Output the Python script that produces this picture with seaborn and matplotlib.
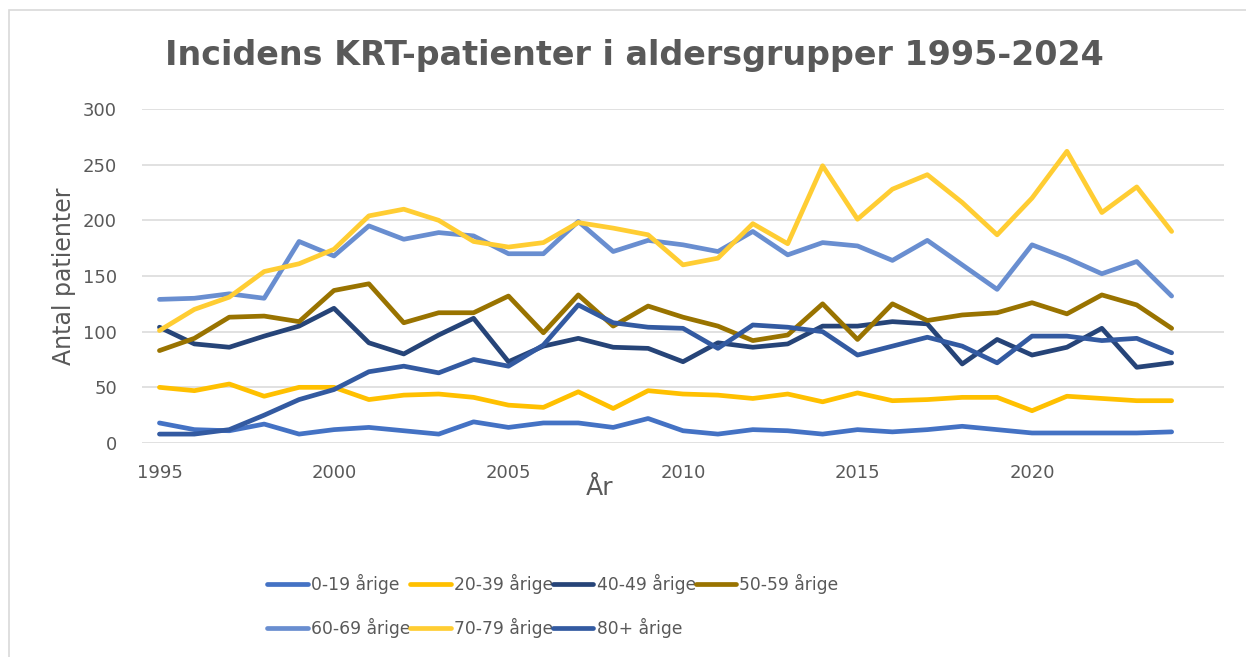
import numpy as np
import pandas as pd
import matplotlib
matplotlib.use("Agg")
import matplotlib.pyplot as plt
import seaborn as sns
from matplotlib.patches import Rectangle

# Data
years = list(range(1995, 2025))
v0_19 = [18, 12, 11, 17, 8, 12, 14, 11, 8, 19, 14, 18, 18, 14, 22, 11, 8, 12, 11, 8, 12, 10, 12, 15, 12, 9, 9, 9, 9, 10]
v20_39 = [50, 47, 53, 42, 50, 50, 39, 43, 44, 41, 34, 32, 46, 31, 47, 44, 43, 40, 44, 37, 45, 38, 39, 41, 41, 29, 42, 40, 38, 38]
v40_49 = [104, 89, 86, 96, 105, 121, 90, 80, 97, 112, 73, 87, 94, 86, 85, 73, 90, 86, 89, 105, 105, 109, 107, 71, 93, 79, 86, 103, 68, 72]
v50_59 = [83, 94, 113, 114, 109, 137, 143, 108, 117, 117, 132, 99, 133, 105, 123, 113, 105, 92, 97, 125, 93, 125, 110, 115, 117, 126, 116, 133, 124, 103]
v60_69 = [129, 130, 134, 130, 181, 168, 195, 183, 189, 186, 170, 170, 199, 172, 182, 178, 172, 190, 169, 180, 177, 164, 182, 160, 138, 178, 166, 152, 163, 132]
v70_79 = [101, 120, 131, 154, 161, 174, 204, 210, 200, 181, 176, 180, 198, 193, 187, 160, 166, 197, 179, 249, 201, 228, 241, 216, 187, 220, 262, 207, 230, 190]
v80 = [8, 8, 12, 25, 39, 48, 64, 69, 63, 75, 69, 88, 124, 108, 104, 103, 85, 106, 104, 100, 79, 87, 95, 87, 72, 96, 96, 92, 94, 81]

groups = ["0-19 årige", "20-39 årige", "40-49 årige", "50-59 årige",
          "60-69 årige", "70-79 årige", "80+ årige"]
colors = ["#4472C4", "#FFC000", "#264478", "#997300", "#698ED0", "#FFCD33", "#335AA1"]
xticks = [1995, 2000, 2005, 2010, 2015, 2020]
yticks = [0, 50, 100, 150, 200, 250, 300]

series = [v0_19, v20_39, v40_49, v50_59, v60_69, v70_79, v80]
frames = []
for g, vals in zip(groups, series):
    frames.append(pd.DataFrame({"År": years, "Antal": vals, "Gruppe": g}))
df = pd.concat(frames, ignore_index=True)

sns.set_style("white")
plt.rcParams['font.family'] = ['DejaVu Sans']
grey = "#595959"
lw = 3.4

fig = plt.figure(figsize=(12.46, 6.57), dpi=100)
ax = fig.add_axes([142 / 1246, 1 - 443 / 657, 1082 / 1246, 334 / 657])

sns.lineplot(data=df, x="År", y="Antal", hue="Gruppe", palette=colors,
             hue_order=groups, linewidth=lw, ax=ax, legend=False,
             solid_capstyle="round", solid_joinstyle="round")

ax.set_xlim(1994.5, 2025.5)
ax.set_ylim(0, 300)
ax.set_xticks(xticks)
ax.set_yticks(yticks)
ax.yaxis.grid(True, color="#D9D9D9", linewidth=1.1)
ax.set_axisbelow(True)
for s in ax.spines.values():
    s.set_visible(False)
ax.tick_params(axis="both", length=0, labelsize=13, labelcolor=grey)
ax.tick_params(axis="y", pad=18)
ax.tick_params(axis="x", pad=15)

ax.set_xlabel("År", fontsize=18, color=grey)
ax.xaxis.set_label_coords((600 - 142) / 1082, -0.098)
ax.set_ylabel("Antal patienter", fontsize=17, color=grey)
ax.yaxis.set_label_coords(-0.061, 0.5)

fig.text(634 / 1246, 1 - 55 / 657, "Incidens KRT-patienter i aldersgrupper 1995-2024",
         ha="center", va="center", fontsize=24, fontweight="bold", color=grey)

# legend, reordered so matplotlib's column-major fill gives row-major rows
handles = [plt.Line2D([], [], color=c, linewidth=lw, solid_capstyle="round") for c in colors]
order = [0, 4, 1, 5, 2, 6, 3]
leg = fig.legend([handles[i] for i in order], [groups[i] for i in order],
                 ncol=4, loc="center", bbox_to_anchor=(553 / 1246, 1 - 606 / 657),
                 frameon=False, fontsize=12.3, handlelength=2.35, handletextpad=0.2,
                 columnspacing=0.0, labelspacing=1.4)
for t in leg.get_texts():
    t.set_color(grey)

# chart area border (cropped on the right and bottom)
fig.patches.append(Rectangle((9 / 1246, -0.1), 1.2, 1 - 10 / 657 + 0.1,
                             transform=fig.transFigure, fill=False,
                             edgecolor="#D9D9D9", linewidth=1.2))

fig.savefig("out.png", dpi=100)
